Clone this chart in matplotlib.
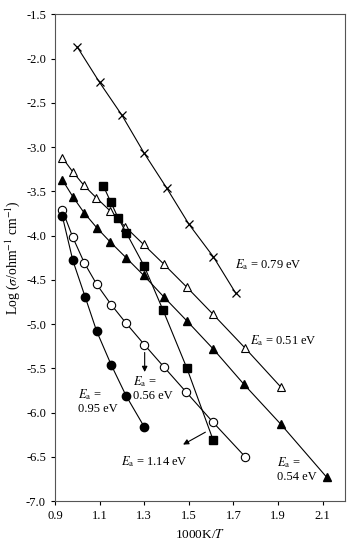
import matplotlib
matplotlib.use("Agg")
import matplotlib.pyplot as plt

plt.rcParams["font.family"] = ["Liberation Serif", "DejaVu Serif"]
plt.rcParams["mathtext.fontset"] = "stix"
plt.rcParams["font.size"] = 9

# 1000K/T and log(sigma) per sample
x_cross = [1.00, 1.10, 1.20, 1.30, 1.40, 1.50, 1.61, 1.71]
y_cross = [-1.87, -2.27, -2.64, -3.07, -3.46, -3.87, -4.24, -4.65]

x_otri = [0.933, 0.980, 1.029, 1.084, 1.147, 1.215, 1.297, 1.387, 1.490, 1.609, 1.752, 1.912]
y_otri = [-3.12, -3.28, -3.43, -3.57, -3.72, -3.90, -4.10, -4.32, -4.58, -4.89, -5.27, -5.71]

x_ftri = [0.933, 0.980, 1.030, 1.087, 1.147, 1.219, 1.298, 1.387, 1.490, 1.609, 1.747, 1.912, 2.118]
y_ftri = [-3.37, -3.56, -3.74, -3.91, -4.07, -4.25, -4.45, -4.69, -4.96, -5.28, -5.68, -6.13, -6.73]

x_fsq = [1.117, 1.150, 1.183, 1.220, 1.299, 1.384, 1.490, 1.609]
y_fsq = [-3.44, -3.62, -3.80, -3.97, -4.34, -4.84, -5.49, -6.31]

x_ocirc = [0.933, 0.980, 1.032, 1.087, 1.152, 1.219, 1.300, 1.387, 1.489, 1.609, 1.753]
y_ocirc = [-3.71, -4.02, -4.31, -4.55, -4.78, -4.99, -5.23, -5.48, -5.77, -6.11, -6.50]

x_fcirc = [0.933, 0.980, 1.035, 1.087, 1.152, 1.219, 1.300]
y_fcirc = [-3.78, -4.28, -4.69, -5.08, -5.46, -5.81, -6.16]

fig = plt.figure(figsize=(3.64, 5.49), dpi=100)
ax = fig.add_axes([0.151, 0.087, 0.797, 0.887])

line_kw = dict(color="black", lw=0.8)
ax.plot(x_cross, y_cross, marker="x", ms=6, mew=0.9, **line_kw)
ax.plot(x_otri, y_otri, marker="^", ms=6, mfc="white", mec="black", mew=0.8, **line_kw)
ax.plot(x_ftri, y_ftri, marker="^", ms=6, mfc="black", mec="black", **line_kw)
ax.plot(x_fsq, y_fsq, marker="s", ms=5.5, mfc="black", mec="black", **line_kw)
ax.plot(x_ocirc, y_ocirc, marker="o", ms=6, mfc="white", mec="black", mew=0.8, **line_kw)
ax.plot(x_fcirc, y_fcirc, marker="o", ms=6, mfc="black", mec="black", **line_kw)

ea = r"$E_\mathrm{a}$"
ax.text(1.705, -4.33, ea + " = 0.79 eV", va="center", ha="left")
ax.text(1.772, -5.19, ea + " = 0.51 eV", va="center", ha="left")
ax.text(1.893, -6.64, ea + " =\n0.54 eV", va="center", ha="left", linespacing=1.1)
ax.text(1.005, -5.866, ea + " =\n0.95 eV", va="center", ha="left", linespacing=1.1)
ax.text(1.248, -5.725, ea + " =\n0.56 eV", va="center", ha="left", linespacing=1.1)
ax.text(1.195, -6.554, ea + " = 1.14 eV", va="center", ha="left")

arrow = dict(arrowstyle="-|>", color="black", lw=0.8, mutation_scale=8, shrinkA=0, shrinkB=0)
ax.annotate("", xy=(1.302, -5.54), xytext=(1.302, -5.32), arrowprops=arrow)
ax.annotate("", xy=(1.474, -6.36), xytext=(1.574, -6.22), arrowprops=arrow)

ax.set_xlim(0.9, 2.2)
ax.set_ylim(-7.0, -1.5)
ax.set_xticks([0.9, 1.1, 1.3, 1.5, 1.7, 1.9, 2.1])
ax.set_yticks([-7.0 + 0.5 * i for i in range(12)])
ax.xaxis.set_major_formatter(matplotlib.ticker.FormatStrFormatter("%.1f"))
ax.yaxis.set_major_formatter(matplotlib.ticker.FormatStrFormatter("%.1f"))
ax.tick_params(direction="out", length=3, width=0.8, colors="black", labelsize=9)
for sp in ax.spines.values():
    sp.set_color("#555555")
    sp.set_linewidth(0.8)

ax.set_xlabel("1000K/$T$", labelpad=4, fontsize=9.5)
ax.set_ylabel(r"Log ($\sigma$/ohm$^{-1}$ cm$^{-1}$)", labelpad=3, fontsize=9.8)

fig.savefig("out.png", dpi=100)
